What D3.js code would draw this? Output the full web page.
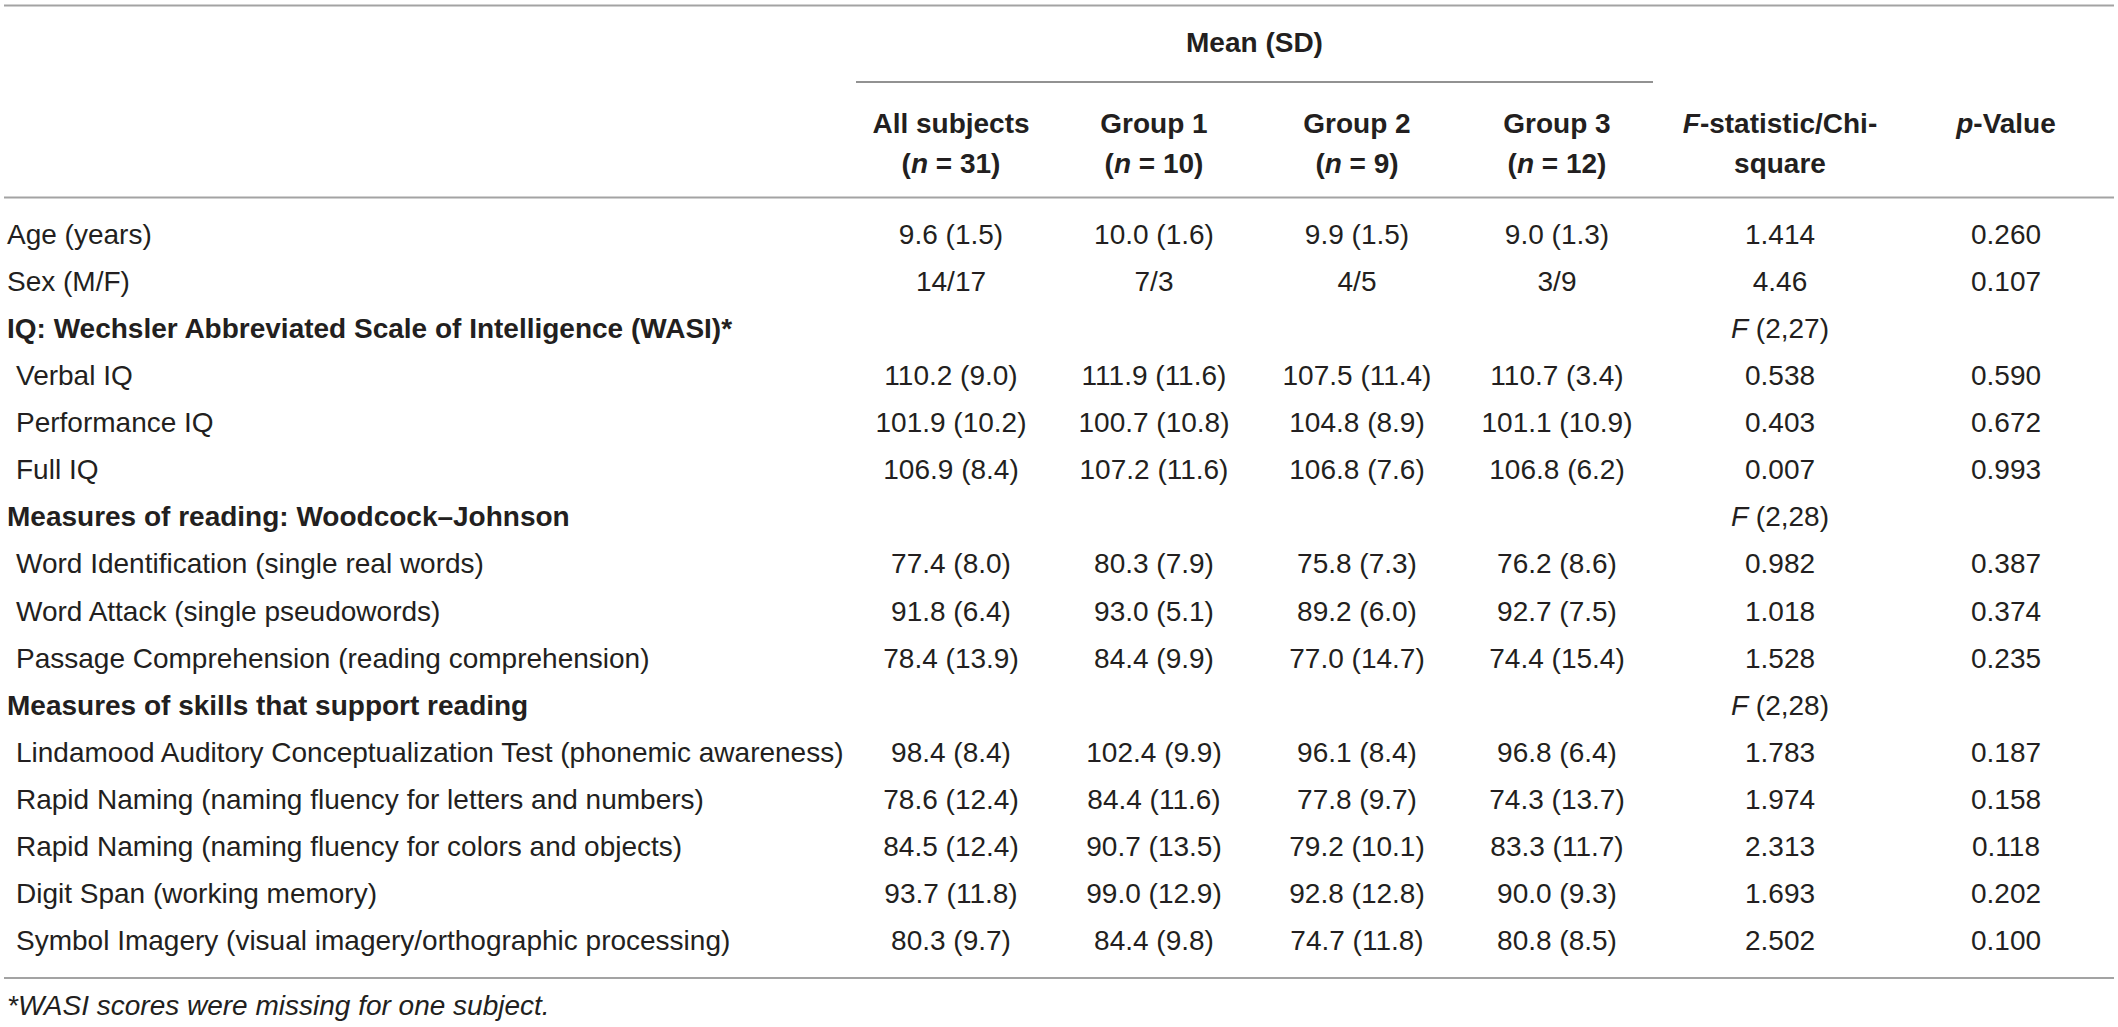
<!DOCTYPE html>
<html>
<head>
<meta charset="utf-8">
<script src="https://cdn.jsdelivr.net/npm/d3@7"></script>
<style>
  html, body { margin: 0; padding: 0; background: #fff; }
  svg { display: block; }
  text { font-family: "Liberation Sans", Arial, Helvetica, sans-serif; fill: #231f20; }
</style>
</head>
<body>
<script>
// ---------------- DATA ----------------
const rowLabels = [
  "Age (years)",
  "Sex (M/F)",
  "IQ: Wechsler Abbreviated Scale of Intelligence (WASI)*",
  "Verbal IQ",
  "Performance IQ",
  "Full IQ",
  "Measures of reading: Woodcock\u2013Johnson",
  "Word Identification (single real words)",
  "Word Attack (single pseudowords)",
  "Passage Comprehension (reading comprehension)",
  "Measures of skills that support reading",
  "Lindamood Auditory Conceptualization Test (phonemic awareness)",
  "Rapid Naming (naming fluency for letters and numbers)",
  "Rapid Naming (naming fluency for colors and objects)",
  "Digit Span (working memory)",
  "Symbol Imagery (visual imagery/orthographic processing)"
];
// 0 = top-level row, 1 = section heading (bold), 2 = indented sub-row
const rowKinds = [0, 0, 1, 2, 2, 2, 1, 2, 2, 2, 1, 2, 2, 2, 2, 2];

const allSubjects = ["9.6 (1.5)", "14/17", "", "110.2 (9.0)", "101.9 (10.2)", "106.9 (8.4)", "",
  "77.4 (8.0)", "91.8 (6.4)", "78.4 (13.9)", "", "98.4 (8.4)", "78.6 (12.4)", "84.5 (12.4)", "93.7 (11.8)", "80.3 (9.7)"];
const group1 = ["10.0 (1.6)", "7/3", "", "111.9 (11.6)", "100.7 (10.8)", "107.2 (11.6)", "",
  "80.3 (7.9)", "93.0 (5.1)", "84.4 (9.9)", "", "102.4 (9.9)", "84.4 (11.6)", "90.7 (13.5)", "99.0 (12.9)", "84.4 (9.8)"];
const group2 = ["9.9 (1.5)", "4/5", "", "107.5 (11.4)", "104.8 (8.9)", "106.8 (7.6)", "",
  "75.8 (7.3)", "89.2 (6.0)", "77.0 (14.7)", "", "96.1 (8.4)", "77.8 (9.7)", "79.2 (10.1)", "92.8 (12.8)", "74.7 (11.8)"];
const group3 = ["9.0 (1.3)", "3/9", "", "110.7 (3.4)", "101.1 (10.9)", "106.8 (6.2)", "",
  "76.2 (8.6)", "92.7 (7.5)", "74.4 (15.4)", "", "96.8 (6.4)", "74.3 (13.7)", "83.3 (11.7)", "90.0 (9.3)", "80.8 (8.5)"];
const fStatistic = ["1.414", "4.46", "F (2,27)", "0.538", "0.403", "0.007", "F (2,28)",
  "0.982", "1.018", "1.528", "F (2,28)", "1.783", "1.974", "2.313", "1.693", "2.502"];
const pValues = ["0.260", "0.107", "", "0.590", "0.672", "0.993", "",
  "0.387", "0.374", "0.235", "", "0.187", "0.158", "0.118", "0.202", "0.100"];

const columnKeys = ["all", "g1", "g2", "g3", "f", "p"];
const columnTitles = ["All subjects", "Group 1", "Group 2", "Group 3", "F-statistic/Chi-", "p-Value"];
const columnSubtitles = ["31", "10", "9", "12", "square", ""];
const spanTitle = "Mean (SD)";
const footnote = "*WASI scores were missing for one subject.";

// ---------------- LAYOUT ----------------
const W = 2118, H = 1027;
const FS = 28;
const colCenters = [951, 1154, 1357, 1557, 1780, 2006];

const svg = d3.select("body").append("svg").attr("width", W).attr("height", H);

const x = d3.scaleOrdinal().domain(columnKeys).range(colCenters);
const y = d3.scalePoint().domain(d3.range(rowLabels.length)).range([244, 950]);

const ruleColor = "#a3a3a3";
function hline(x1, x2, yy, color, w) {
  svg.append("line").attr("x1", x1).attr("x2", x2).attr("y1", yy).attr("y2", yy)
    .attr("stroke", color).attr("stroke-width", w);
}
hline(4, 2114, 5.5, ruleColor, 2);
hline(856, 1653, 82, "#6e6e6e", 1.6);
hline(4, 2114, 197.5, ruleColor, 2);
hline(4, 2114, 978, ruleColor, 2);

// span title
svg.append("text").attr("x", (856 + 1653) / 2).attr("y", 52)
  .attr("text-anchor", "middle").attr("font-size", FS).attr("font-weight", "bold")
  .text(spanTitle);

// column headers
const hdr = svg.append("g");
columnKeys.forEach((k, i) => {
  const t = hdr.append("text").attr("x", x(k)).attr("y", 133)
    .attr("text-anchor", "middle").attr("font-size", FS).attr("font-weight", "bold");
  const title = columnTitles[i];
  if (k === "f") {
    t.append("tspan").attr("font-style", "italic").text("F");
    t.append("tspan").text(title.slice(1));
  } else if (k === "p") {
    t.append("tspan").attr("font-style", "italic").text("p");
    t.append("tspan").text(title.slice(1));
  } else {
    t.text(title);
  }
  const sub = columnSubtitles[i];
  if (sub) {
    const s = hdr.append("text").attr("x", x(k)).attr("y", 173)
      .attr("text-anchor", "middle").attr("font-size", FS).attr("font-weight", "bold");
    if (k === "f") {
      s.text(sub);
    } else {
      s.append("tspan").text("(");
      s.append("tspan").attr("font-style", "italic").text("n");
      s.append("tspan").text(" = " + sub + ")");
    }
  }
});

// row labels
svg.append("g").selectAll("text").data(rowLabels).join("text")
  .attr("x", (d, i) => rowKinds[i] === 2 ? 16 : 7)
  .attr("y", (d, i) => y(i))
  .attr("font-size", FS)
  .attr("font-weight", (d, i) => rowKinds[i] === 1 ? "bold" : "normal")
  .text(d => d);

// cells
const columns = [allSubjects, group1, group2, group3, fStatistic, pValues];
columns.forEach((vals, ci) => {
  const k = columnKeys[ci];
  svg.append("g").selectAll("text").data(vals).join("text")
    .attr("x", x(k))
    .attr("y", (d, i) => y(i))
    .attr("text-anchor", "middle")
    .attr("font-size", FS)
    .each(function (d) {
      const t = d3.select(this);
      if (d.startsWith("F ")) {
        t.append("tspan").attr("font-style", "italic").text("F");
        t.append("tspan").text(d.slice(1));
      } else {
        t.text(d);
      }
    });
});

// footnote
svg.append("text").attr("x", 7).attr("y", 1015)
  .attr("font-size", FS).attr("font-style", "italic").text(footnote);
</script>
</body>
</html>
